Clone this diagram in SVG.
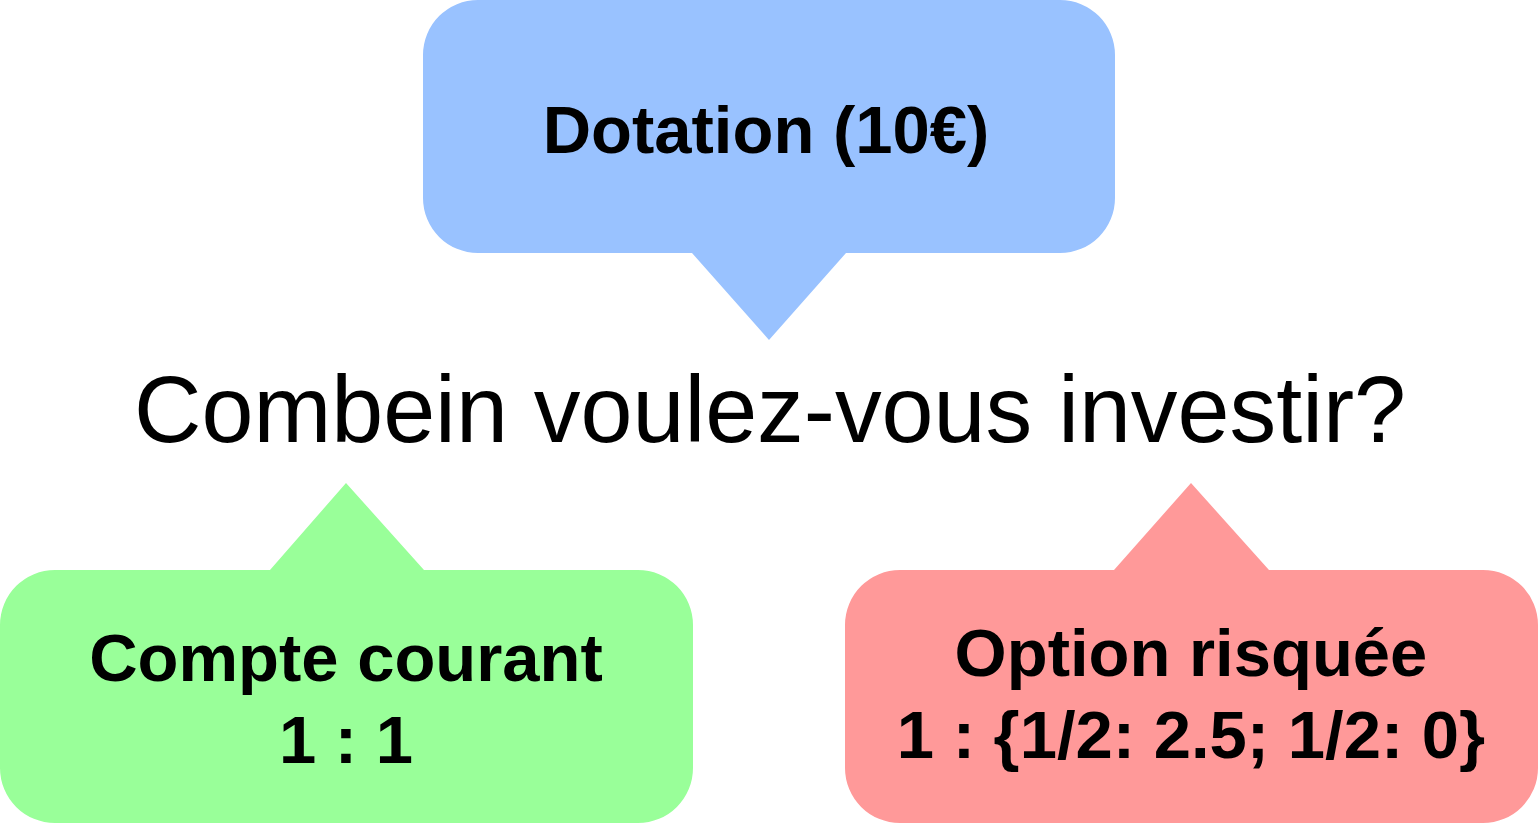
<svg xmlns="http://www.w3.org/2000/svg" width="1538" height="823" viewBox="0 0 1538 823">
<style>
.b{font-family:"Liberation Sans",Arial,sans-serif;font-weight:bold;font-size:67px;fill:#000;text-anchor:middle}
.q{font-family:"Liberation Sans",Arial,sans-serif;font-size:95px;fill:#000;text-anchor:middle}
</style>
<rect width="1538" height="823" fill="#fff"/>
<g id="dotation">
<path d="M478,0 H1060 A55,55 0 0 1 1115,55 V198 A55,55 0 0 1 1060,253 H846 L769,340 L692,253 H478 A55,55 0 0 1 423,198 V55 A55,55 0 0 1 478,0 Z" fill="#99c2ff"/>
<text class="b" x="766" y="153">Dotation (10€)</text>
</g>
<g id="question">
<text class="q" x="770" y="442" textLength="1272" lengthAdjust="spacingAndGlyphs">Combein voulez-vous investir?</text>
</g>
<g id="compte">
<path d="M55,570 H270 L346,483 L424,570 H638 A55,55 0 0 1 693,625 V768 A55,55 0 0 1 638,823 H55 A55,55 0 0 1 0,768 V625 A55,55 0 0 1 55,570 Z" fill="#99ff99"/>
<text class="b" x="346" y="681">Compte courant</text>
<text class="b" x="346" y="763">1 : 1</text>
</g>
<g id="option">
<path d="M900,570 H1114 L1191,483 L1269,570 H1483 A55,55 0 0 1 1538,625 V768 A55,55 0 0 1 1483,823 H900 A55,55 0 0 1 845,768 V625 A55,55 0 0 1 900,570 Z" fill="#ff9999"/>
<text class="b" x="1191" y="676">Option risquée</text>
<text class="b" x="1191" y="758">1 : {1/2: 2.5; 1/2: 0}</text>
</g>
<g id="connectors"></g>
</svg>
